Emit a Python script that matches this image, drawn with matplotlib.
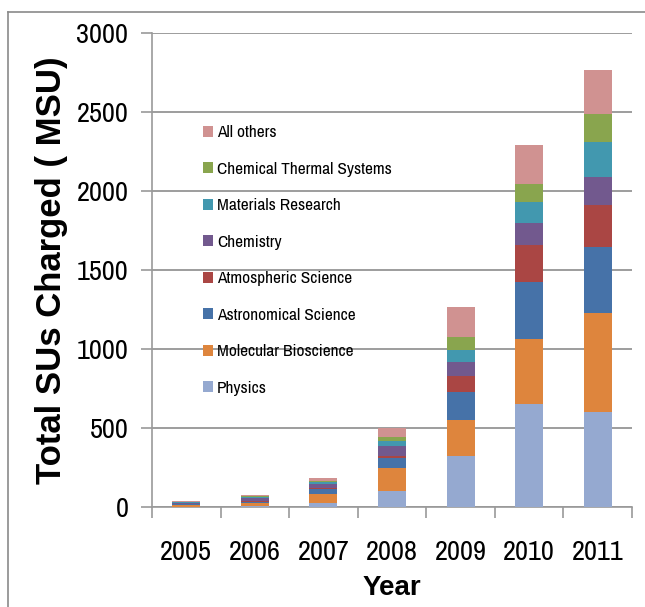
import numpy as np
import matplotlib
matplotlib.use("Agg")
import matplotlib.pyplot as plt
from matplotlib.lines import Line2D
from matplotlib import font_manager

# prefer a narrow font if one is around, Calibri-like look
names = sorted({f.name for f in font_manager.fontManager.ttflist})
narrow = [n for n in names if 'Narrow' in n or 'Condensed' in n]
plt.rcParams['font.family'] = narrow[:1] + ['Liberation Sans', 'DejaVu Sans']
scale = 1.2 if narrow else 1.0
bold_family = ['Liberation Sans', 'DejaVu Sans']

years = ['2005', '2006', '2007', '2008', '2009', '2010', '2011']
fields = ['Physics', 'Molecular Bioscience', 'Astronomical Science', 'Atmospheric Science',
          'Chemistry', 'Materials Research', 'Chemical Thermal Systems', 'All others']
colors = ['#95a9d0', '#de853d', '#4672a8', '#aa4644', '#72598e', '#4298af', '#89a54e', '#d09291']

physics   = [3, 9, 28, 102, 321, 654, 599]
molecular = [8, 19, 55, 145, 228, 407, 631]
astro     = [5, 6, 28, 62, 179, 363, 414]
atmos     = [6, 6, 8, 14, 103, 232, 268]
chemistry = [5, 20, 28, 60, 87, 144, 179]
materials = [3, 6, 13, 36, 78, 129, 217]
chem_therm = [3, 6, 6, 21, 78, 113, 180]
others    = [3, 7, 17, 60, 192, 247, 278]
series = [physics, molecular, astro, atmos, chemistry, materials, chem_therm, others]

fig = plt.figure(figsize=(6.45, 6.07), dpi=100)
ax = fig.add_axes([152/645, 1-507/607, 480/645, 474/607])

x = np.arange(len(years))
bottom = np.zeros(len(years))
for name, vals, c in zip(fields, series, colors):
    ax.bar(x, vals, width=0.41, bottom=bottom, color=c, label=name, zorder=3)
    bottom += np.array(vals)

ax.set_xlim(-0.5, len(years) - 0.5)
ax.set_ylim(0, 3000)
ax.set_yticks(range(0, 3001, 500))
ax.yaxis.grid(True, color='#8c8c8c', linewidth=1.2, zorder=0)
ax.set_axisbelow(True)
for s in ['top', 'right']:
    ax.spines[s].set_visible(False)
for s in ['left', 'bottom']:
    ax.spines[s].set_color('#9a9a9a')
    ax.spines[s].set_linewidth(1.2)

tick_fs = 17 * scale
ax.set_xticks(x)
ax.set_xticklabels(years, fontsize=tick_fs)
ax.set_xticks(np.arange(-0.5, len(years)), minor=True)
ax.tick_params(axis='x', which='major', length=0, pad=24)
ax.tick_params(axis='x', which='minor', length=8, color='#9a9a9a', width=1.2)
ax.tick_params(axis='y', labelsize=tick_fs, length=8, color='#9a9a9a', width=1.2, pad=9)

ax.set_xlabel('Year', fontsize=20, fontweight='bold', family=bold_family, labelpad=7)
ax.set_ylabel('Total SUs Charged ( MSU)', fontsize=25, fontweight='bold', family=bold_family, labelpad=6)

handles, labels = ax.get_legend_handles_labels()
ax.legend(handles[::-1], labels[::-1], loc='upper left', bbox_to_anchor=(0.092, 0.82),
          frameon=False, fontsize=10.4 * scale, handlelength=0.6, handleheight=0.6,
          handletextpad=0.2, labelspacing=1.24, borderaxespad=0)

# outer chart border (top and left visible)
fig.add_artist(Line2D([8/645, 8/645], [0, 1-12/607], transform=fig.transFigure, color='#8a8a8a', lw=1.2))
fig.add_artist(Line2D([8/645, 1], [1-12/607, 1-12/607], transform=fig.transFigure, color='#8a8a8a', lw=1.2))

fig.savefig('out.png', dpi=100)
